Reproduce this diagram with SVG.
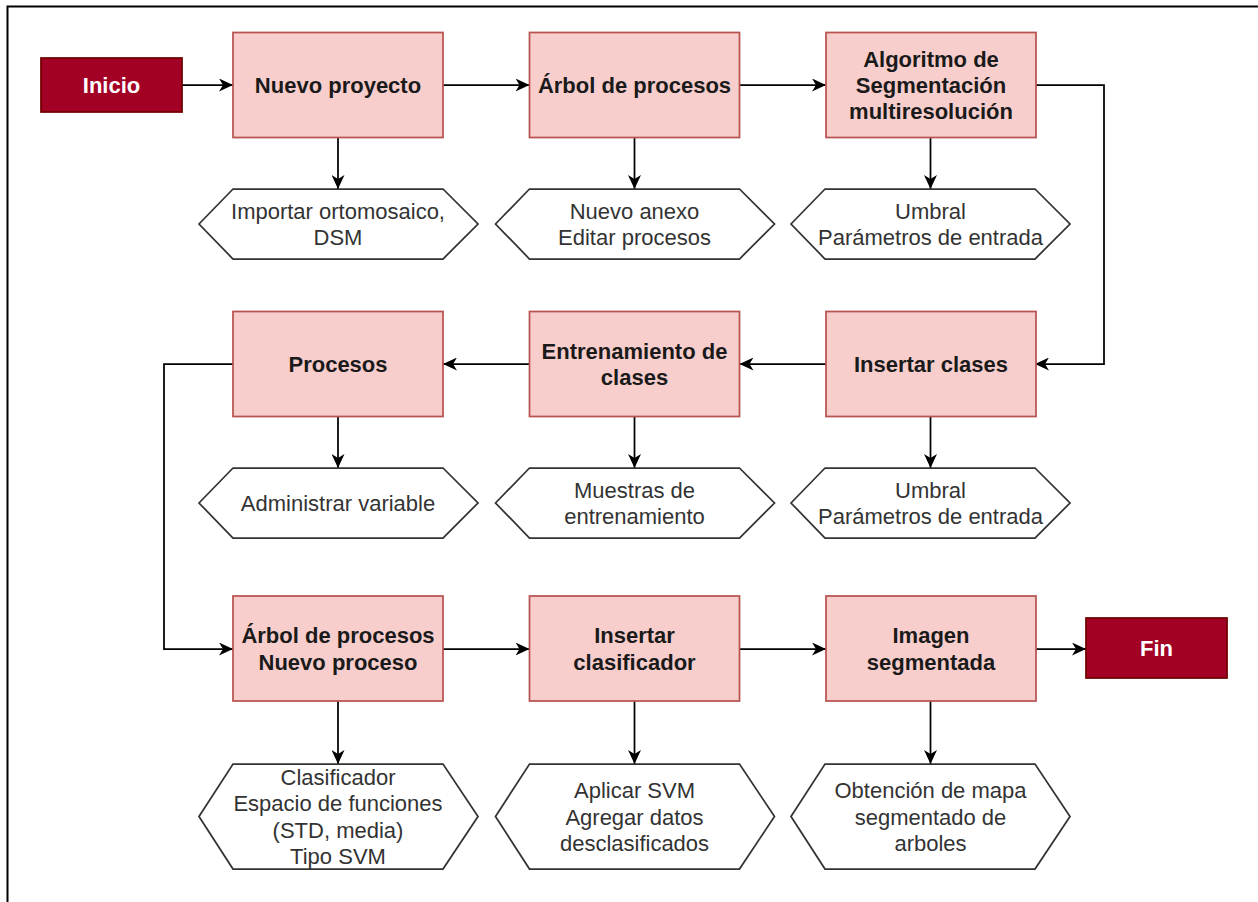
<svg xmlns="http://www.w3.org/2000/svg" width="1258" height="902" viewBox="0 0 1258 902">
  <defs>
    <marker id="arrow" viewBox="0 0 14 13" refX="14" refY="6.5" markerWidth="14" markerHeight="13" markerUnits="userSpaceOnUse" orient="auto">
      <path d="M0,0 L14,6.5 L0,13 L4,6.5 Z" fill="#000"/>
    </marker>
    <style>
      .step { fill: #f8cecc; stroke: #b85450; stroke-width: 1.75; }
      .term { fill: #a20025; stroke: #6f0000; stroke-width: 1.75; }
      .hex { fill: #ffffff; stroke: #333333; stroke-width: 1.75; }
      .lbl { font-family: "Liberation Sans", Arial, Helvetica, sans-serif; font-size: 22px; font-weight: bold; fill: #1a1a1a; text-anchor: middle; }
      .tlbl { font-family: "Liberation Sans", Arial, Helvetica, sans-serif; font-size: 22px; font-weight: bold; fill: #ffffff; text-anchor: middle; }
      .hlbl { font-family: "Liberation Sans", Arial, Helvetica, sans-serif; font-size: 22px; fill: #333333; text-anchor: middle; }
      .edge { fill: none; stroke: #000; stroke-width: 1.75; marker-end: url(#arrow); }
    </style>
  </defs>

  <rect width="1258" height="902" fill="#ffffff"/>
  <!-- outer frame (runs past the right and bottom edges) -->
  <rect x="7.5" y="6.5" width="1300" height="1000" fill="none" stroke="#000" stroke-width="2"/>

  <!-- connectors -->
  <g id="connectors">
    <path class="edge" d="M182,85 L233,85"/>
    <path class="edge" d="M443,85 L529.5,85"/>
    <path class="edge" d="M739.5,85 L826,85"/>
    <path class="edge" d="M1035,85 L1104,85 L1104,364 L1035,364"/>
    <path class="edge" d="M826,364 L739.5,364"/>
    <path class="edge" d="M529.5,364 L443,364"/>
    <path class="edge" d="M233,364 L164,364 L164,649 L233,649"/>
    <path class="edge" d="M443,649 L529.5,649"/>
    <path class="edge" d="M739.5,649 L826,649"/>
    <path class="edge" d="M1035,649 L1086,649"/>
    <path class="edge" d="M338,137.5 L338,189"/>
    <path class="edge" d="M634.5,137.5 L634.5,189"/>
    <path class="edge" d="M930.5,137.5 L930.5,189"/>
    <path class="edge" d="M338,417 L338,468"/>
    <path class="edge" d="M634.5,417 L634.5,468"/>
    <path class="edge" d="M930.5,417 L930.5,468"/>
    <path class="edge" d="M338,701 L338,764"/>
    <path class="edge" d="M634.5,701 L634.5,764"/>
    <path class="edge" d="M930.5,701 L930.5,764"/>
  </g>

  <!-- terminals -->
  <g id="inicio">
    <rect class="term" x="41" y="58" width="141" height="54"/>
    <text class="tlbl" x="111.5" y="93">Inicio</text>
  </g>
  <g id="fin">
    <rect class="term" x="1086" y="618" width="141" height="60"/>
    <text class="tlbl" x="1156.5" y="656">Fin</text>
  </g>

  <!-- row 1 -->
  <g id="nuevo-proyecto">
    <rect class="step" x="233" y="32.5" width="210" height="105"/>
    <text class="lbl" x="338" y="93">Nuevo proyecto</text>
  </g>
  <g id="arbol-procesos">
    <rect class="step" x="529.5" y="32.5" width="210" height="105"/>
    <text class="lbl" x="634.5" y="93">Árbol de procesos</text>
  </g>
  <g id="algoritmo">
    <rect class="step" x="826" y="32.5" width="210" height="105"/>
    <text class="lbl" x="931" y="66.6">Algoritmo de</text>
    <text class="lbl" x="931" y="93">Segmentación</text>
    <text class="lbl" x="931" y="119.4">multiresolución</text>
  </g>
  <g id="importar">
    <polygon class="hex" points="199,224 233,189 443,189 478,224 443,259 233,259"/>
    <text class="hlbl" x="338" y="218.8">Importar ortomosaico,</text>
    <text class="hlbl" x="338" y="245.2">DSM</text>
  </g>
  <g id="nuevo-anexo">
    <polygon class="hex" points="495.5,224 529.5,189 739.5,189 774.5,224 739.5,259 529.5,259"/>
    <text class="hlbl" x="634.5" y="218.8">Nuevo anexo</text>
    <text class="hlbl" x="634.5" y="245.2">Editar procesos</text>
  </g>
  <g id="umbral-1">
    <polygon class="hex" points="791,224 825,189 1035,189 1070,224 1035,259 825,259"/>
    <text class="hlbl" x="930.5" y="218.8">Umbral</text>
    <text class="hlbl" x="930.5" y="245.2">Parámetros de entrada</text>
  </g>

  <!-- row 2 -->
  <g id="procesos">
    <rect class="step" x="233" y="311.5" width="210" height="105"/>
    <text class="lbl" x="338" y="372">Procesos</text>
  </g>
  <g id="entrenamiento">
    <rect class="step" x="529.5" y="311.5" width="210" height="105"/>
    <text class="lbl" x="634.5" y="358.8">Entrenamiento de</text>
    <text class="lbl" x="634.5" y="385.2">clases</text>
  </g>
  <g id="insertar-clases">
    <rect class="step" x="826" y="311.5" width="210" height="105"/>
    <text class="lbl" x="931" y="372">Insertar clases</text>
  </g>
  <g id="administrar">
    <polygon class="hex" points="199,503 233,468 443,468 478,503 443,538 233,538"/>
    <text class="hlbl" x="338" y="511">Administrar variable</text>
  </g>
  <g id="muestras">
    <polygon class="hex" points="495.5,503 529.5,468 739.5,468 774.5,503 739.5,538 529.5,538"/>
    <text class="hlbl" x="634.5" y="497.8">Muestras de</text>
    <text class="hlbl" x="634.5" y="524.2">entrenamiento</text>
  </g>
  <g id="umbral-2">
    <polygon class="hex" points="791,503 825,468 1035,468 1070,503 1035,538 825,538"/>
    <text class="hlbl" x="930.5" y="497.8">Umbral</text>
    <text class="hlbl" x="930.5" y="524.2">Parámetros de entrada</text>
  </g>

  <!-- row 3 -->
  <g id="nuevo-proceso">
    <rect class="step" x="233" y="596" width="210" height="105"/>
    <text class="lbl" x="338" y="643.3">Árbol de procesos</text>
    <text class="lbl" x="338" y="669.7">Nuevo proceso</text>
  </g>
  <g id="insertar-clasificador">
    <rect class="step" x="529.5" y="596" width="210" height="105"/>
    <text class="lbl" x="634.5" y="643.3">Insertar</text>
    <text class="lbl" x="634.5" y="669.7">clasificador</text>
  </g>
  <g id="imagen-segmentada">
    <rect class="step" x="826" y="596" width="210" height="105"/>
    <text class="lbl" x="931" y="643.3">Imagen</text>
    <text class="lbl" x="931" y="669.7">segmentada</text>
  </g>
  <g id="clasificador">
    <polygon class="hex" points="199,816.5 233,764 443,764 478,816.5 443,869 233,869"/>
    <text class="hlbl" x="338" y="784.9">Clasificador</text>
    <text class="hlbl" x="338" y="811.3">Espacio de funciones</text>
    <text class="hlbl" x="338" y="837.7">(STD, media)</text>
    <text class="hlbl" x="338" y="864.1">Tipo SVM</text>
  </g>
  <g id="aplicar-svm">
    <polygon class="hex" points="495.5,816.5 529.5,764 739.5,764 774.5,816.5 739.5,869 529.5,869"/>
    <text class="hlbl" x="634.5" y="798.1">Aplicar SVM</text>
    <text class="hlbl" x="634.5" y="824.5">Agregar datos</text>
    <text class="hlbl" x="634.5" y="850.9">desclasificados</text>
  </g>
  <g id="mapa">
    <polygon class="hex" points="791,816.5 825,764 1035,764 1070,816.5 1035,869 825,869"/>
    <text class="hlbl" x="930.5" y="798.1">Obtención de mapa</text>
    <text class="hlbl" x="930.5" y="824.5">segmentado de</text>
    <text class="hlbl" x="930.5" y="850.9">arboles</text>
  </g>
</svg>
